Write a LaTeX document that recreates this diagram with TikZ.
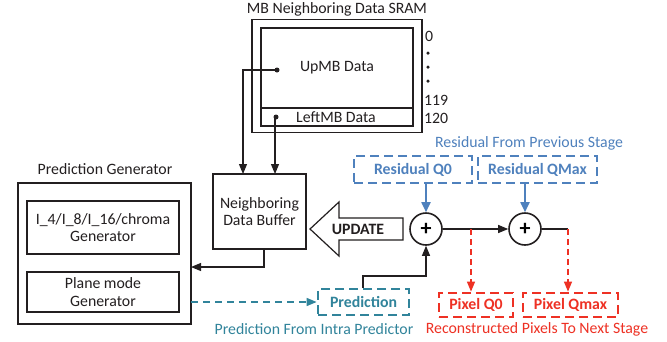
\documentclass[tikz,border=0pt]{standalone}
\usepackage{fontspec}
\setmainfont{Carlito}
\usetikzlibrary{arrows.meta}
\definecolor{resblue}{HTML}{4F81BD}
\definecolor{predteal}{HTML}{31849B}
\definecolor{pixred}{HTML}{EE3124}
\definecolor{ink}{HTML}{231F20}
\newcommand{\txtsize}{\fontsize{15.8}{17.5}\selectfont}
\tikzset{
  plainbox/.style={draw=ink, line width=1.1pt, inner sep=0pt, align=center, text=ink},
  dashbox/.style={line width=2.8pt, dash pattern=on 9pt off 5pt, inner sep=0pt, font=\txtsize\bfseries},
  lbl/.style={font=\txtsize, inner sep=0pt},
  arr/.style={draw=ink, line width=1.1pt, -{Triangle[length=10pt,width=8pt]}},
  sumnode/.style={circle, draw=ink, line width=1.6pt, minimum size=32pt, inner sep=0pt, font=\fontsize{22}{22}\selectfont\bfseries},
  dotmark/.style={circle, fill=ink, minimum size=5pt, inner sep=0pt}
}
\begin{document}
\begin{tikzpicture}[x=1pt,y=-1pt, font=\txtsize]
\useasboundingbox (0,0) rectangle (667,341);
\fill[white] (0,0) rectangle (667,341);

% ---- MB neighboring data SRAM ----
\node[lbl, text=ink] (sramtitle) at (337,9) {MB Neighboring Data SRAM};
\node[plainbox, minimum width=170pt, minimum height=113pt] (sram) at (337,76) {};
\node[plainbox, minimum width=152pt, minimum height=98pt] (sraminner) at (337,77) {};
\draw[ink, line width=1.1pt] (261,108) -- (413,108);
\node[lbl, text=ink] (upmb) at (337,68) {UpMB Data};
\node[lbl, text=ink] (leftmb) at (336,117) {LeftMB Data};
\node[dotmark] (updot) at (277,70) {};
\node[dotmark] (leftdot) at (276,117) {};
\node[lbl, text=ink, anchor=west] (addr0) at (425,36) {0};
\node[dotmark, minimum size=3.5pt] (vd1) at (428,53) {};
\node[dotmark, minimum size=3.5pt] (vd2) at (428,67) {};
\node[dotmark, minimum size=3.5pt] (vd3) at (428,81) {};
\node[lbl, text=ink, anchor=west] (addr119) at (424,100) {119};
\node[lbl, text=ink, anchor=west] (addr120) at (424,118) {120};

% ---- neighboring data buffer ----
\node[plainbox, minimum width=93pt, minimum height=75pt] (ndb) at (259.5,211.5) {Neighboring\\Data Buffer};
\coordinate (ndbin1) at (243,174);
\coordinate (ndbin2) at (275,174);
\draw[arr] (updot.center) -| (ndbin1);
\draw[arr] (leftdot.center) -| (ndbin2);

% ---- prediction generator ----
\node[lbl, text=ink] (pgtitle) at (105,169) {Prediction Generator};
\node[plainbox, minimum width=173pt, minimum height=141pt] (pg) at (104.5,253.5) {};
\node[plainbox, minimum width=152pt, minimum height=53pt] (gen1) at (103,227.5) {I\_4/I\_8/I\_16/chroma\\Generator};
\node[plainbox, minimum width=152pt, minimum height=40pt] (gen2) at (103,292) {Plane mode\\Generator};
\coordinate (ndbout) at (264,249);
\coordinate (pgin) at (191,267);
\draw[arr] (ndbout) |- (pgin);

% ---- residual inputs ----
\node[lbl, text=resblue] (restitle) at (529,143) {Residual From Previous Stage};
\node[dashbox, draw=resblue, text=resblue, minimum width=118pt, minimum height=27pt] (resq0) at (413,169.5) {Residual Q0};
\node[dashbox, draw=resblue, text=resblue, minimum width=119pt, minimum height=27pt] (resqmax) at (537.5,169.5) {Residual QMax};

% ---- adders ----
\node[sumnode] (sum1) at (426,229) {+};
\node[sumnode] (sum2) at (525,229) {+};
\draw[resblue, line width=1.8pt, -{Triangle[length=10pt,width=9pt]}] (resq0.south -| sum1) -- (sum1.north);
\draw[resblue, line width=1.8pt, -{Triangle[length=10pt,width=9pt]}] (resqmax.south -| sum2) -- (sum2.north);
\draw[arr] (sum1.east) -- (sum2.west);

% ---- update arrow ----
\draw[ink, line width=1.2pt, fill=white] (310,229) -- (339,202) -- (339,218) -- (403,218)
  -- (403,240) -- (339,240) -- (339,256) -- cycle;
\node[font=\txtsize\bfseries, text=ink, inner sep=0pt] (update) at (358,229) {UPDATE};

% ---- prediction input ----
\node[dashbox, draw=predteal, text=predteal, minimum width=91pt, minimum height=26pt] (pred) at (363.5,302) {Prediction};
\node[lbl, text=predteal] (predtitle) at (314,329) {Prediction From Intra Predictor};
\coordinate (gen2out) at (191,302);
\draw[predteal, line width=1.5pt, dash pattern=on 7pt off 5pt, -{Triangle[length=10pt,width=8pt]}] (gen2out) -- (pred.west);
\coordinate (predbend) at (363,276);
\draw[arr] (pred.north -| predbend) -- (predbend) -| (sum1.south);

% ---- reconstructed pixel outputs ----
\node[dashbox, draw=pixred, text=pixred, minimum width=74pt, minimum height=24pt] (pixq0) at (476,305) {Pixel Q0};
\node[dashbox, draw=pixred, text=pixred, minimum width=95pt, minimum height=24pt] (pixqmax) at (570.5,305) {Pixel Qmax};
\node[lbl, text=pixred] (pixtitle) at (537,329) {Reconstructed Pixels To Next Stage};
\coordinate (tap1) at (471,229);
\coordinate (tap2) at (568,229);
\draw[ink, line width=1.1pt] (sum2.east) -- (tap2);
\draw[pixred, line width=1.3pt, dash pattern=on 6pt off 4pt, -{Triangle[length=10pt,width=8pt]}] (tap1) -- (tap1 |- pixq0.north);
\draw[pixred, line width=1.3pt, dash pattern=on 6pt off 4pt, -{Triangle[length=10pt,width=8pt]}] (tap2) -- (tap2 |- pixqmax.north);
\end{tikzpicture}
\end{document}
